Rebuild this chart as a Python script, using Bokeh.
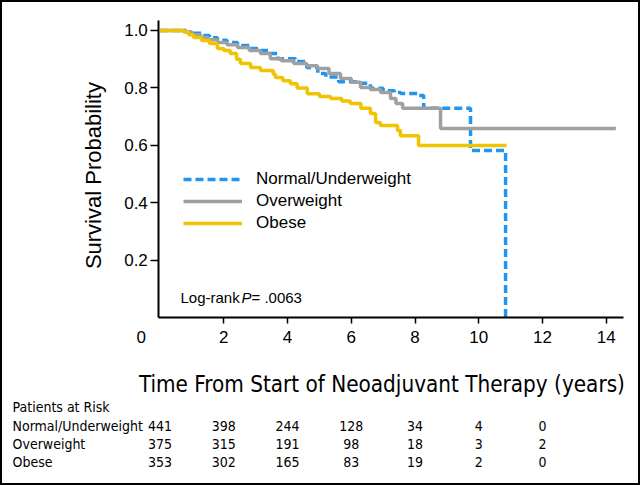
import math
from bokeh.plotting import figure
from bokeh.models import (Range1d, FixedTicker, Label, LabelSet, ColumnDataSource,
                          Legend, LegendItem, PrintfTickFormatter, LinearAxis)
from bokeh.core.properties import value
from bokeh.embed import file_html
from bokeh.resources import INLINE

# ---- data ----
time_normal = [0, 0.8, 1.0, 1.3, 1.55, 1.8, 2.1, 2.43, 2.84, 3.15, 3.4, 3.7, 4.25, 4.6,
               4.95, 5.2, 5.6, 6.2, 6.6, 7.0, 7.35, 7.55, 8.1, 8.27, 9.74, 10.84]
surv_normal = [1.0, 0.995, 0.99, 0.983, 0.975, 0.966, 0.958, 0.948, 0.937, 0.93, 0.92,
               0.902, 0.892, 0.871, 0.85, 0.838, 0.822, 0.816, 0.799, 0.79, 0.784, 0.781,
               0.774, 0.729, 0.582, 0.0]

time_over = [0, 0.8, 1.0, 1.27, 1.5, 1.8, 2.1, 2.43, 2.8, 3.15, 3.46, 3.8, 4.19, 4.6,
             4.94, 5.3, 5.66, 6.0, 6.29, 6.6, 6.92, 7.23, 7.4, 7.61, 8.8, 14.3]
surv_over = [1.0, 0.995, 0.985, 0.976, 0.968, 0.958, 0.95, 0.941, 0.93, 0.92, 0.902,
             0.895, 0.885, 0.877, 0.868, 0.85, 0.833, 0.82, 0.802, 0.795, 0.784, 0.763,
             0.746, 0.729, 0.659, 0.659]

time_obese = [0, 0.74, 0.9, 1.05, 1.3, 1.55, 1.8, 2.0, 2.2, 2.4, 2.52, 2.84, 3.15, 3.55,
              3.62, 3.85, 4.09, 4.3, 4.62, 5.0, 5.35, 5.7, 5.97, 6.3, 6.6, 6.76, 6.91,
              7.45, 7.54, 8.11, 10.87]
surv_obese = [1.0, 0.995, 0.985, 0.976, 0.965, 0.955, 0.937, 0.93, 0.92, 0.9, 0.885,
              0.871, 0.861, 0.848, 0.836, 0.825, 0.815, 0.8, 0.78, 0.77, 0.763, 0.755,
              0.746, 0.729, 0.711, 0.68, 0.669, 0.652, 0.634, 0.6, 0.6]

group_names = ["Normal/Underweight", "Overweight", "Obese"]
risk_times = [0, 2, 4, 6, 8, 10, 12]
risk_normal = [441, 398, 244, 128, 34, 4, 0]
risk_over = [375, 315, 191, 98, 18, 3, 2]
risk_obese = [353, 302, 165, 83, 19, 2, 0]

x_ticks = [2, 4, 6, 8, 10, 12, 14]
y_ticks = [0.2, 0.4, 0.6, 0.8, 1.0]

BLUE = "#2196F0"
GRAY = "#A0A0A0"
YELLOW = "#F0C400"
SANS = "Liberation Sans"
COND = "DejaVu Sans Condensed"

# the frame fills the whole canvas; axes are placed at fixed data locations
p = figure(width=640, height=485, output_backend="svg", toolbar_location=None,
           x_range=Range1d(-5.008, 15.074), y_range=Range1d(-0.5837, 1.1044),
           x_axis_location=None, y_axis_location=None, min_border=0)
p.grid.visible = False
p.outline_line_color = "black"
p.outline_line_width = 3

# curves
r_n = p.step(time_normal, surv_normal, mode="after", line_color=BLUE, line_width=3.5,
             line_dash="8 4")
r_o = p.step(time_over, surv_over, mode="after", line_color=GRAY, line_width=3.5)
r_b = p.step(time_obese, surv_obese, mode="after", line_color=YELLOW, line_width=3.5)

# axes
xa = LinearAxis(fixed_location=0, bounds=(-0.04, 14.55), ticker=FixedTicker(ticks=x_ticks))
xa.axis_line_width = 2
xa.axis_line_color = "black"
xa.major_tick_out = 6
xa.major_tick_in = 0
xa.major_tick_line_width = 1.5
xa.minor_tick_line_color = None
xa.major_label_text_font = SANS
xa.major_label_text_font_size = "17px"
xa.major_label_text_color = "black"
xa.major_label_standoff = 7
p.add_layout(xa, "below")

ya = LinearAxis(fixed_location=-0.04, bounds=(0, 1.035), ticker=FixedTicker(ticks=y_ticks),
                formatter=PrintfTickFormatter(format="%.1f"))
ya.axis_line_width = 2
ya.axis_line_color = "black"
ya.major_tick_out = 8
ya.major_tick_in = 0
ya.major_tick_line_width = 1.5
ya.minor_tick_line_color = None
ya.major_label_text_font = SANS
ya.major_label_text_font_size = "17px"
ya.major_label_text_color = "black"
ya.major_label_standoff = 3
p.add_layout(ya, "left")

# axis titles and the "0" at the origin corner
p.add_layout(Label(x=-2.09, y=0.495, text="Survival Probability", angle=math.pi / 2,
                   text_align="center", text_baseline="middle", text_font=SANS,
                   text_font_size="22px", text_color="black"))
p.add_layout(Label(x=6.96, y=-0.2297, text="Time From Start of Neoadjuvant Therapy (years)",
                   text_align="center", text_baseline="alphabetic", text_font=COND,
                   text_font_size="22.3px", text_color="black"))
p.add_layout(Label(x=-0.59, y=-0.0675, text="0", text_align="center",
                   text_baseline="middle", text_font=SANS,
                   text_font_size="17px", text_color="black"))

# legend
legend = Legend(items=[LegendItem(label=group_names[0], renderers=[r_n]),
                       LegendItem(label=group_names[1], renderers=[r_o]),
                       LegendItem(label=group_names[2], renderers=[r_b])],
                location=(183, 252), orientation="vertical",
                glyph_width=59, glyph_height=16, label_height=16, spacing=2,
                label_standoff=14, padding=0, margin=0,
                border_line_color=None, background_fill_alpha=0,
                label_text_font=SANS, label_text_font_size="17px",
                label_text_color="black")
p.add_layout(legend, "center")

# log-rank text
lr_x, lr_y = 0.64, 0.0707
p.add_layout(Label(x=lr_x, y=lr_y, text="Log-rank", text_baseline="middle",
                   text_font=SANS, text_font_size="15px", text_color="black"))
p.add_layout(Label(x=lr_x, y=lr_y, x_offset=61, text="P", text_baseline="middle",
                   text_font=SANS, text_font_size="15px", text_font_style="italic",
                   text_color="black"))
p.add_layout(Label(x=lr_x, y=lr_y, x_offset=71, text="= .0063", text_baseline="middle",
                   text_font=SANS, text_font_size="15px", text_color="black"))

# patients at risk table
row_y = [-0.377, -0.4386, -0.5026]
label_x = -4.63
p.add_layout(Label(x=label_x, y=-0.311, text="Patients at Risk", text_baseline="middle",
                   text_font=COND, text_font_size="14px", text_color="black"))
for name, counts, yy in zip(group_names, [risk_normal, risk_over, risk_obese], row_y):
    p.add_layout(Label(x=label_x, y=yy, text=name, text_baseline="middle",
                       text_font=COND, text_font_size="14px", text_color="black"))
    src = ColumnDataSource(dict(x=risk_times, y=[yy] * len(risk_times),
                                n=[str(c) for c in counts]))
    p.add_layout(LabelSet(x="x", y="y", text="n", source=src, text_align="center",
                          text_baseline="middle", text_font=value(COND),
                          text_font_size="14px", text_color="black"))

open("out.html", "w").write(file_html(p, INLINE))
